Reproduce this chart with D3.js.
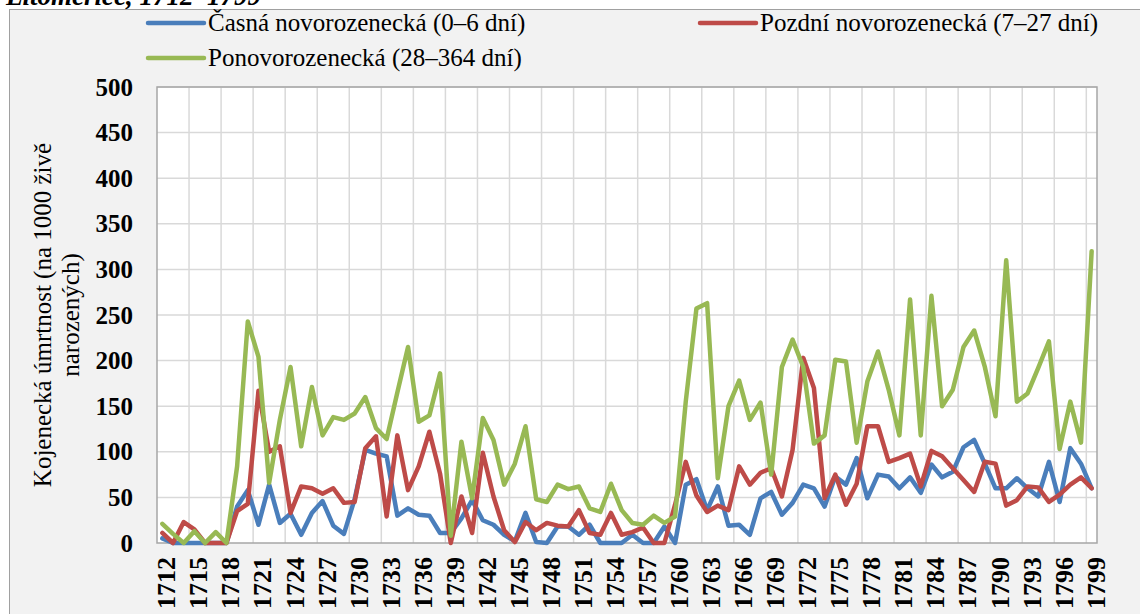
<!DOCTYPE html>
<html>
<head>
<meta charset="utf-8">
<script src="https://d3js.org/d3.v7.min.js"></script>
<style>
  body { margin: 0; background: #fff; }
  svg text { font-family: "Liberation Serif", "Times New Roman", serif; }
</style>
</head>
<body>
<svg width="1140" height="614"></svg>
<script>
// years 1712..1799
var years = d3.range(1712, 1800);
var yTicks = [0, 50, 100, 150, 200, 250, 300, 350, 400, 450, 500];
var xTicks = years.filter(function(d, i) { return i % 3 === 0; });

var seriesNames = ["Časná novorozenecká (0–6 dní)", "Pozdní novorozenecká (7–27 dní)", "Ponovorozenecká (28–364 dní)"];
var colors = ["#4a7ebb", "#be4b48", "#98b954"];

var casna = [
  5, 0, 0, 0, 0, 0, 0, 40, 58, 20,
  64, 22, 32, 9, 33, 46, 19, 10, 48, 102,
  98, 95, 30, 38, 31, 30, 11, 11, 27, 47,
  25, 20, 9, 2, 33, 1, 0, 18, 18, 9,
  20, 0, 0, 0, 9, 0, 0, 18, 0, 64,
  70, 36, 62, 19, 20, 9, 49, 56, 31, 44,
  64, 60, 40, 73, 64, 93, 49, 75, 73, 60,
  72, 55, 86, 72, 78, 105, 113, 87, 60, 60,
  71, 60, 51, 89, 45, 104, 87, 60
];
var pozdni = [
  11, 0, 23, 15, 0, 0, 0, 35, 43, 167,
  100, 106, 33, 62, 60, 54, 60, 44, 45, 104,
  117, 29, 118, 58, 84, 122, 76, 0, 51, 11,
  99, 51, 14, 1, 23, 14, 22, 19, 18, 36,
  11, 9, 33, 9, 12, 17, 0, 0, 42, 89,
  52, 34, 41, 36, 84, 64, 77, 82, 51, 102,
  203, 170, 49, 75, 42, 65, 128, 128, 89, 93,
  98, 62, 101, 95, 82, 69, 56, 89, 87, 41,
  47, 62, 61, 45, 53, 64, 72, 60
];
var pono = [
  21, 10, 0, 13, 0, 12, 0, 84, 243, 204,
  66, 135, 193, 106, 171, 118, 138, 135, 142, 160,
  126, 114, 165, 215, 133, 140, 186, 8, 111, 49,
  137, 113, 64, 87, 128, 48, 45, 64, 59, 62,
  38, 34, 65, 36, 22, 20, 30, 22, 29, 155,
  257, 263, 71, 150, 178, 135, 154, 75, 193, 223,
  193, 109, 118, 201, 199, 110, 177, 210, 168, 118,
  267, 118, 271, 150, 168, 215, 233, 193, 139, 310,
  155, 164, 192, 221, 103, 155, 110, 320
];
var allSeries = [casna, pozdni, pono];

var svg = d3.select("svg");
var pLeft = 157, pRight = 1097, pTop = 87, pBottom = 543;

// outer chart area
svg.append("rect")
  .attr("x", 9.5).attr("y", 9.5)
  .attr("width", 1200).attr("height", 700)
  .attr("fill", "#f2f2f2")
  .attr("stroke", "#a0a0a0");

// title, cut off at the top
svg.append("text")
  .attr("x", 6).attr("y", 5)
  .attr("font-size", 27)
  .attr("font-weight", "bold")
  .attr("font-style", "italic")
  .text("Litoměřice, 1712–1799");

var x = d3.scaleBand().domain(years).range([pLeft, pRight]);
var y = d3.scaleLinear().domain([0, 500]).range([pBottom, pTop]);

svg.append("rect")
  .attr("x", pLeft).attr("y", pTop)
  .attr("width", pRight - pLeft).attr("height", pBottom - pTop)
  .attr("fill", "#fff");

// grid
var g = svg.append("g");
g.selectAll(".hg").data(yTicks.slice(1))
  .enter().append("line")
  .attr("x1", pLeft).attr("x2", pRight)
  .attr("y1", function(d) { return y(d); })
  .attr("y2", function(d) { return y(d); })
  .attr("stroke", "#d9d9d9").attr("stroke-width", 1.5);

g.selectAll(".vg").data(xTicks.slice(1))
  .enter().append("line")
  .attr("x1", function(d) { return x(d); })
  .attr("x2", function(d) { return x(d); })
  .attr("y1", pTop).attr("y2", pBottom)
  .attr("stroke", "#d9d9d9").attr("stroke-width", 1.5);

// plot frame
svg.append("rect")
  .attr("x", pLeft).attr("y", pTop)
  .attr("width", pRight - pLeft).attr("height", pBottom - pTop)
  .attr("fill", "none")
  .attr("stroke", "#a6a6a6").attr("stroke-width", 1.5);

// y axis
var yAxis = svg.append("g")
  .attr("transform", "translate(" + (pLeft - 24) + ",0)")
  .call(d3.axisLeft(y).tickValues(yTicks).tickSize(0).tickPadding(0));
yAxis.select(".domain").remove();
yAxis.selectAll("text")
  .attr("font-family", "Liberation Serif")
  .attr("font-size", 25)
  .attr("font-weight", "bold")
  .attr("fill", "#000");

// x axis
var xAxis = svg.append("g")
  .attr("transform", "translate(0," + pBottom + ")")
  .call(d3.axisBottom(x).tickValues(xTicks).tickSize(0).tickPadding(0));
xAxis.select(".domain").remove();
xAxis.selectAll("text")
  .attr("font-family", "Liberation Serif")
  .attr("font-size", 26)
  .attr("font-weight", "bold")
  .attr("fill", "#000")
  .attr("text-anchor", "end")
  .attr("transform", "rotate(-90)")
  .attr("x", -14)
  .attr("y", 0)
  .attr("dy", "0.5em");

// axis title
var yt = svg.append("text")
  .attr("transform", "translate(42," + ((pTop + pBottom) / 2) + ") rotate(-90)")
  .attr("text-anchor", "middle")
  .attr("font-size", 25);
yt.append("tspan").attr("x", 0).attr("dy", "0.35em").text("Kojenecká úmrtnost (na 1000 živě");
yt.append("tspan").attr("x", 0).attr("dy", 28).text("narozených)");

// lines
var line = d3.line()
  .x(function(d, i) { return x(years[i]) + x.bandwidth() / 2; })
  .y(function(d) { return y(d); });

svg.append("g").selectAll("path")
  .data(allSeries)
  .enter().append("path")
  .attr("d", line)
  .attr("fill", "none")
  .attr("stroke", function(d, i) { return colors[i]; })
  .attr("stroke-width", 4.5)
  .attr("stroke-linejoin", "round")
  .attr("stroke-linecap", "round");

// legend
var legendPos = [[148, 23], [700, 23], [148, 58]];
var legend = svg.append("g").selectAll("g")
  .data(seriesNames)
  .enter().append("g")
  .attr("transform", function(d, i) { return "translate(" + legendPos[i][0] + "," + legendPos[i][1] + ")"; });

legend.append("line")
  .attr("x1", 0).attr("x2", 56)
  .attr("stroke", function(d, i) { return colors[i]; })
  .attr("stroke-width", 4.5)
  .attr("stroke-linecap", "round");

legend.append("text")
  .attr("x", 60)
  .attr("dy", "0.33em")
  .attr("font-size", 25)
  .text(function(d) { return d; });
</script>
</body>
</html>
